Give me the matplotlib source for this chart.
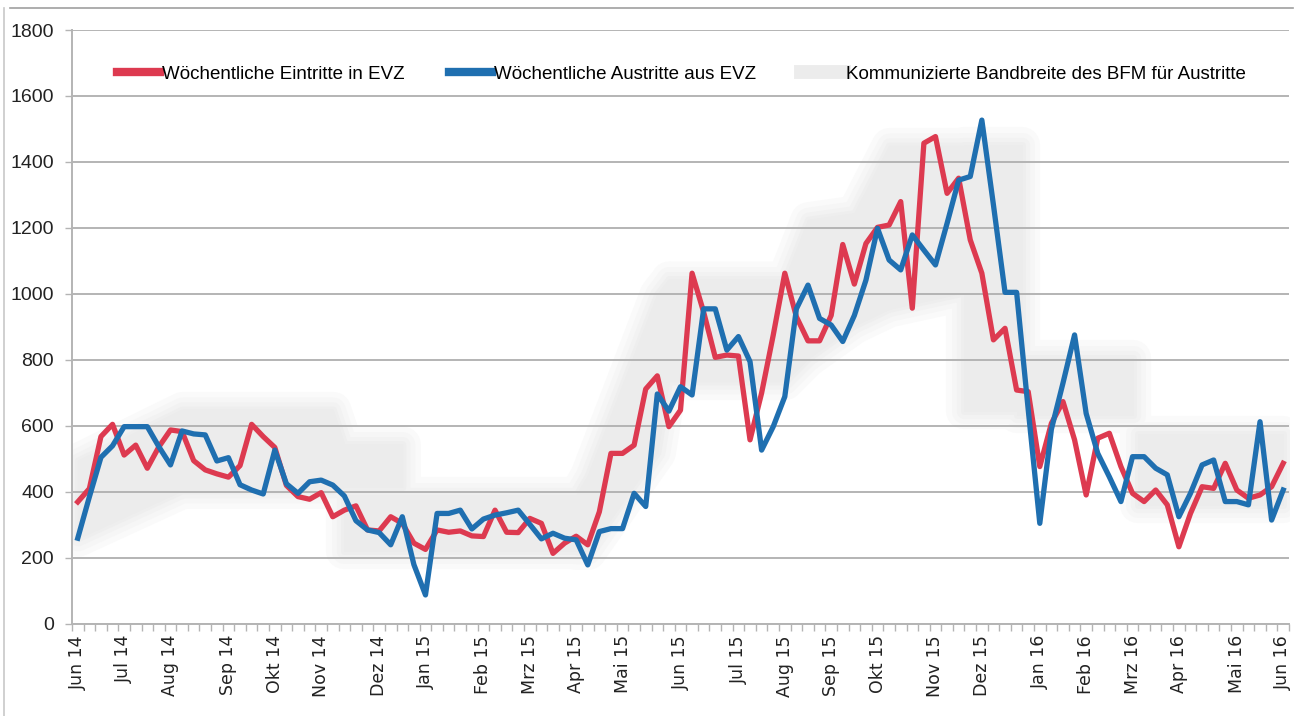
import numpy as np
import matplotlib.pyplot as plt
from matplotlib.lines import Line2D

# weekly values, Jun 2014 - Jun 2016
weeks = np.arange(105)
month_labels = ["Jun 14", "Jul 14", "Aug 14", "Sep 14", "Okt 14", "Nov 14", "Dez 14",
                "Jan 15", "Feb 15", "Mrz 15", "Apr 15", "Mai 15", "Jun 15", "Jul 15",
                "Aug 15", "Sep 15", "Okt 15", "Nov 15", "Dez 15", "Jan 16", "Feb 16",
                "Mrz 16", "Apr 16", "Mai 16", "Jun 16"]
month_pos = [0, 4, 8, 13, 17, 21, 26, 30, 35, 39, 43, 47, 52, 57, 61, 65, 69, 74,
             78, 83, 87, 91, 95, 100, 104]

eintritte = [370, 410, 568, 605, 512, 542, 472, 537, 588, 583,
             495, 467, 455, 445, 480, 605, 568, 535, 420, 386,
             378, 398, 325, 345, 358, 285, 282, 325, 305, 245,
             226, 285, 278, 282, 267, 265, 345, 278, 277, 320,
             305, 214, 245, 266, 240, 340, 517, 517, 542, 712,
             752, 598, 648, 1063, 945, 808, 815, 812, 558, 700,
             875, 1063, 931, 858, 858, 935, 1150, 1030, 1153, 1202,
             1209, 1280, 957, 1457, 1477, 1305, 1351, 1164, 1063, 861,
             896, 709, 704, 477, 608, 674, 558, 391, 563, 578,
             477, 396, 371, 406, 361, 234, 335, 416, 411, 487,
             406, 381, 391, 416, 487]

austritte = [260, 385, 505, 540, 598, 598, 598, 537, 482, 585,
             576, 573, 494, 504, 422, 406, 394, 527, 425, 396,
             431, 436, 421, 388, 313, 285, 277, 240, 325, 180,
             88, 335, 335, 345, 288, 318, 330, 337, 345, 302,
             258, 275, 260, 255, 179, 280, 289, 289, 396, 356,
             697, 645, 719, 694, 955, 955, 830, 871, 795, 527,
             598, 689, 955, 1027, 926, 906, 856, 935, 1042, 1199,
             1103, 1073, 1179, 1133, 1088, 1214, 1345, 1356, 1527, 1270,
             1005, 1005, 650, 305, 590, 730, 876, 638, 517, 446,
             371, 507, 507, 472, 452, 325, 396, 482, 497, 371,
             371, 361, 613, 315, 406]

# communicated range (week, lower, upper) as separate pieces
band_segments = [
    ([0, 9, 22, 23, 28], [260, 405, 405, 415, 415], [495, 650, 650, 545, 545]),
    ([23, 44], [220, 220], [390, 390]),
    ([43, 44, 50, 51], [220, 220, 520, 735], [390, 450, 1000, 1045]),
    ([51, 61, 63, 67, 70, 76.5], [735, 735, 805, 905, 955, 1005],
     [1045, 1045, 1225, 1245, 1450, 1450]),
    ([76.5, 81.5], [645, 645], [1450, 1450]),
    ([81, 91], [632, 632], [805, 805]),
    ([91.5, 104], [360, 360], [575, 575]),
]

red = "#dd3a50"
blue = "#1f6fb0"
band_col = "#ececec"
grid_col = "#b4b4b4"

fig = plt.figure(figsize=(12.99, 7.16), dpi=100)
ax = fig.add_axes([0.0554, 0.1285, 0.9369, 0.8296])

# soft edged band: several layers, outermost first
layers = [("#fafafa", 26), ("#f6f6f6", 18), ("#f2f2f2", 11), ("#eeeeee", 5), (band_col, 0.5)]
for k, (col, width) in enumerate(layers):
    for bx, lo, hi in band_segments:
        ax.fill_between(bx, lo, hi, color=col, lw=width, edgecolor=col,
                        joinstyle="round", zorder=0.1 + 0.05 * k)

ax.plot(weeks, eintritte, color=red, lw=3.8, zorder=3)
ax.plot(weeks, austritte, color=blue, lw=3.8, zorder=4)

ax.set_xlim(-0.5, 104.5)
ax.set_ylim(0, 1800)
ax.set_yticks(np.arange(0, 1801, 200))
ax.set_axisbelow(True)
ax.yaxis.grid(True, color=grid_col, lw=1.4, zorder=0.5)

ax.set_xticks(month_pos, labels=month_labels, rotation=90)
ax.set_xticks(np.arange(-0.5, 105, 1), minor=True)
ax.tick_params(axis="x", which="major", length=0, pad=8, labelsize=12.5, colors="#222222")
ax.tick_params(axis="x", which="minor", length=5, width=1, color=grid_col)
ax.tick_params(axis="y", length=5, width=1, color=grid_col, pad=8, labelsize=14,
               labelcolor="#222222")
for lab in ax.get_yticklabels():
    lab.set_family(["Liberation Sans Narrow", "Liberation Sans"])

for s in ["top", "right"]:
    ax.spines[s].set_visible(False)
ax.spines["left"].set_color(grid_col)
ax.spines["bottom"].set_color(grid_col)
ax.spines["left"].set_linewidth(1.4)
ax.spines["bottom"].set_linewidth(1.4)

handles = [Line2D([], [], color=red, lw=6),
           Line2D([], [], color=blue, lw=6),
           Line2D([], [], color=band_col, lw=10)]
names = ["Wöchentliche Eintritte in EVZ", "Wöchentliche Austritte aus EVZ",
         "Kommunizierte Bandbreite des BFM für Austritte"]
ax.legend(handles, names, loc="center left", bbox_to_anchor=(0.09, 0.896),
          bbox_transform=fig.transFigure, ncol=3, frameon=False, handlelength=2.3,
          handletextpad=0.12, columnspacing=2.35, borderpad=0, borderaxespad=0,
          prop={"family": ["Liberation Sans Narrow", "Liberation Sans"], "size": 13.5})

# scanned frame edges
fig.add_artist(Line2D([0.008, 0.995], [0.989, 0.989], color="#a0a0a0", lw=1.2))
fig.add_artist(Line2D([0.003, 0.003], [0.0, 0.989], color="#c8c8c8", lw=1.2))

plt.savefig("out.png", dpi=100)
